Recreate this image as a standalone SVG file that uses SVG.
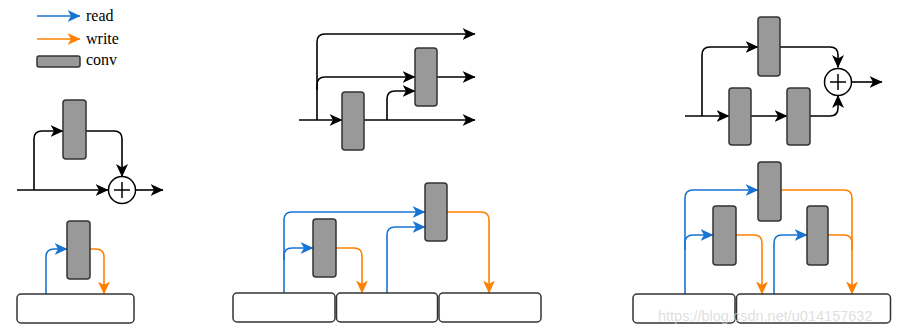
<svg xmlns="http://www.w3.org/2000/svg" width="902" height="335" viewBox="0 0 902 335">
<style>
.k{fill:none;stroke:#000;stroke-width:1.6}
.b{fill:none;stroke:#1873d3;stroke-width:1.6}
.o{fill:none;stroke:#ff8000;stroke-width:1.6}
.conv{fill:#999;stroke:#333;stroke-width:1.5}
.mem{fill:#fff;stroke:#333;stroke-width:1.5}
.sum{fill:#fff;stroke:#000;stroke-width:1.5}
.lbl{font-family:"Liberation Serif","Times New Roman",serif;font-size:16px;fill:#000}
.wm{font-family:"Liberation Sans",Arial,sans-serif;font-size:14.5px;fill:#d4d4d4;fill-opacity:0.75}
.k{marker-end:url(#ak)}
</style>
<defs>
<marker id="ak" viewBox="0 0 13 12" refX="12.5" refY="6" markerWidth="13" markerHeight="12" markerUnits="userSpaceOnUse" orient="auto"><path d="M0,0 L13,6 L0,12 L3.5,6 Z" fill="#000"/></marker>
<marker id="ab" viewBox="0 0 13 12" refX="12.5" refY="6" markerWidth="13" markerHeight="12" markerUnits="userSpaceOnUse" orient="auto"><path d="M0,0 L13,6 L0,12 L3.5,6 Z" fill="#1873d3"/></marker>
<marker id="ao" viewBox="0 0 13 12" refX="12.5" refY="6" markerWidth="13" markerHeight="12" markerUnits="userSpaceOnUse" orient="auto"><path d="M0,0 L13,6 L0,12 L3.5,6 Z" fill="#ff8000"/></marker>
</defs>

<g id="legend">
<path class="b" d="M37,16 H80" marker-end="url(#ab)"/>
<text class="lbl" x="86" y="21">read</text>
<path class="o" d="M37,39 H80" marker-end="url(#ao)"/>
<text class="lbl" x="86" y="44">write</text>
<rect class="conv" x="37" y="56" width="43" height="11" rx="2"/>
<text class="lbl" x="86" y="65">conv</text>
</g>

<g id="connectors">
<!-- left top -->
<path class="k" d="M17,190 H108"/>
<path class="k" d="M34,190 V139 Q34,131 42,131 H63"/>
<path class="k" d="M86,131 H114 Q122,131 122,139 V176.5"/>
<path class="k" d="M136,190 H163"/>
<!-- left bottom -->
<path class="b" d="M46,294 V257 Q46,249 54,249 H67" marker-end="url(#ab)"/>
<path class="o" d="M90,249 H96 Q104,249 104,257 V294" marker-end="url(#ao)"/>
<!-- middle top -->
<path class="k" d="M299,120 H342"/>
<path class="k" d="M317,120 V42 Q317,34 325,34 H475"/>
<path class="k" d="M317,90 V85 Q317,77 325,77 H415"/>
<path class="k" d="M437,77 H475"/>
<path class="k" d="M364,120 H475"/>
<path class="k" d="M387,120 V99 Q387,91 395,91 H415"/>
<!-- middle bottom -->
<path class="b" d="M284,293 V220 Q284,212 292,212 H425" marker-end="url(#ab)"/>
<path class="b" d="M284,260 V256 Q284,248 292,248 H313" marker-end="url(#ab)"/>
<path class="o" d="M336,248 H354 Q362,248 362,256 V293" marker-end="url(#ao)"/>
<path class="b" d="M387,293 V235 Q387,227 395,227 H425" marker-end="url(#ab)"/>
<path class="o" d="M447,212 H481 Q489,212 489,220 V293" marker-end="url(#ao)"/>
<!-- right top -->
<path class="k" d="M685,116 H729"/>
<path class="k" d="M702,116 V55 Q702,47 710,47 H758"/>
<path class="k" d="M780,47 H830 Q838,47 838,55 V67.5"/>
<path class="k" d="M751,116 H787"/>
<path class="k" d="M810,116 H830 Q838,116 838,108 V95.5"/>
<path class="k" d="M852,82 H882"/>
<!-- right bottom -->
<path class="b" d="M685,294 V198 Q685,190 693,190 H758" marker-end="url(#ab)"/>
<path class="b" d="M685,250 V243 Q685,235 693,235 H713" marker-end="url(#ab)"/>
<path class="o" d="M736,235 H754 Q762,235 762,243 V294" marker-end="url(#ao)"/>
<path class="b" d="M774,294 V243 Q774,235 782,235 H807" marker-end="url(#ab)"/>
<path class="o" d="M781,190 H844 Q852,190 852,198 V294" marker-end="url(#ao)"/>
<path class="o" d="M828,235 H844 Q852,235 852,243 V250"/>
</g>

<g id="left-conv"><rect class="conv" x="63" y="100" width="23" height="59" rx="3"/></g>
<g id="left-sum"><circle class="sum" cx="122" cy="190" r="13.5"/><path d="M114,190 H130 M122,182 V198" stroke="#000" stroke-width="1.5"/></g>
<g id="left-conv-mem"><rect class="conv" x="67" y="221" width="23" height="58" rx="3"/></g>
<g id="left-mem"><rect class="mem" x="17" y="294" width="117" height="29" rx="4"/></g>

<g id="mid-conv1"><rect class="conv" x="342" y="92" width="22" height="58" rx="3"/></g>
<g id="mid-conv2"><rect class="conv" x="415" y="48" width="22" height="58" rx="3"/></g>
<g id="mid-conv-a"><rect class="conv" x="313" y="219" width="23" height="58" rx="3"/></g>
<g id="mid-conv-b"><rect class="conv" x="425" y="183" width="22" height="58" rx="3"/></g>
<g id="mid-mem1"><rect class="mem" x="233" y="293" width="102" height="29" rx="4"/></g>
<g id="mid-mem2"><rect class="mem" x="336.5" y="293" width="101" height="29" rx="4"/></g>
<g id="mid-mem3"><rect class="mem" x="439" y="293" width="102" height="29" rx="4"/></g>

<g id="right-conv-top"><rect class="conv" x="758" y="17" width="22" height="59" rx="3"/></g>
<g id="right-conv-b1"><rect class="conv" x="729" y="88" width="22" height="57" rx="3"/></g>
<g id="right-conv-b2"><rect class="conv" x="787" y="88" width="23" height="57" rx="3"/></g>
<g id="right-sum"><circle class="sum" cx="838" cy="82" r="13.5"/><path d="M830,82 H846 M838,74 V90" stroke="#000" stroke-width="1.5"/></g>
<g id="right-conv-top-mem"><rect class="conv" x="758" y="162" width="23" height="59" rx="3"/></g>
<g id="right-conv-l"><rect class="conv" x="713" y="206" width="23" height="59" rx="3"/></g>
<g id="right-conv-r"><rect class="conv" x="807" y="206" width="21" height="59" rx="3"/></g>
<g id="right-mem1"><rect class="mem" x="633" y="294" width="102" height="29" rx="4"/></g>
<g id="right-mem2"><rect class="mem" x="736.5" y="294" width="154" height="29" rx="4"/></g>

<text class="wm" x="658" y="321">https://blog.csdn.net/u014157632</text>
</svg>
